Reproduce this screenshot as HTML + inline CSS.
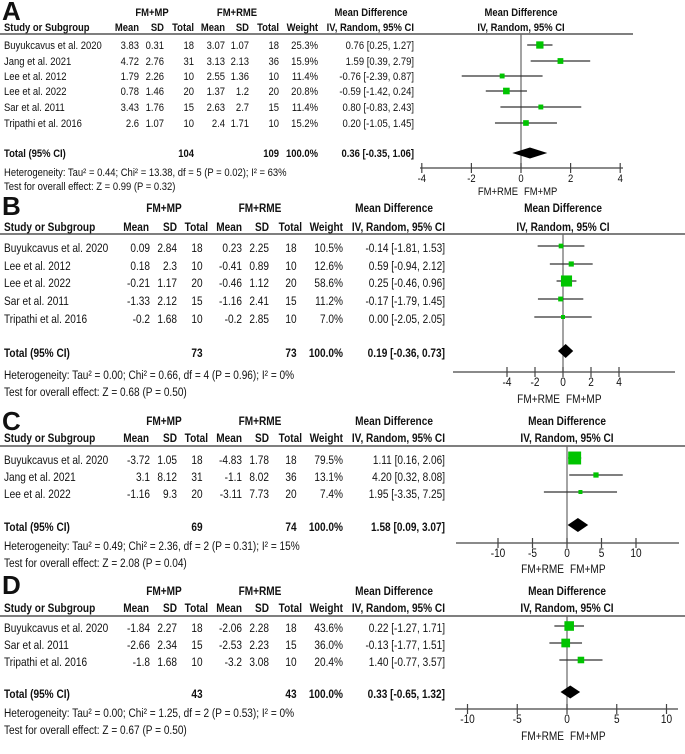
<!DOCTYPE html>
<html><head><meta charset="utf-8">
<style>
html,body{margin:0;padding:0;background:#fff;}
svg{display:block;font-family:"Liberation Sans",Arial,sans-serif;}
</style></head>
<body>
<svg id="fig" width="685" height="754" viewBox="0 0 685 754" xmlns="http://www.w3.org/2000/svg"></svg>
<script>
// ---------- Panel A data ----------
var aStudies = ["Buyukcavus et al. 2020","Jang et al. 2021","Lee et al. 2012","Lee et al. 2022","Sar et al. 2011","Tripathi et al. 2016"];
var aMean1 = ["3.83","4.72","1.79","0.78","3.43","2.6"];
var aSd1 = ["0.31","2.76","2.26","1.46","1.76","1.07"];
var aN1 = ["18","31","10","20","15","10"];
var aMean2 = ["3.07","3.13","2.55","1.37","2.63","2.4"];
var aSd2 = ["1.07","2.13","1.36","1.2","2.7","1.71"];
var aN2 = ["18","36","10","20","15","10"];
var aWeight = [25.3,15.9,11.4,20.8,11.4,15.2];
var aMD = [0.76,1.59,-0.76,-0.59,0.80,0.20];
var aLo = [0.25,0.39,-2.39,-1.42,-0.83,-1.05];
var aHi = [1.27,2.79,0.87,0.24,2.43,1.45];
var aTotal = [0.36,-0.35,1.06];
var aTotN = ["104","109"];
var aTicks = [-4,-2,0,2,4];
var aHet = "Heterogeneity: Tau\u00b2 = 0.44; Chi\u00b2 = 13.38, df = 5 (P = 0.02); I\u00b2 = 63%";
var aTest = "Test for overall effect: Z = 0.99 (P = 0.32)";

// ---------- Panel B data ----------
var bStudies = ["Buyukcavus et al. 2020","Lee et al. 2012","Lee et al. 2022","Sar et al. 2011","Tripathi et al. 2016"];
var bMean1 = ["0.09","0.18","-0.21","-1.33","-0.2"];
var bSd1 = ["2.84","2.3","1.17","2.12","1.68"];
var bN1 = ["18","10","20","15","10"];
var bMean2 = ["0.23","-0.41","-0.46","-1.16","-0.2"];
var bSd2 = ["2.25","0.89","1.12","2.41","2.85"];
var bN2 = ["18","10","20","15","10"];
var bWeight = [10.5,12.6,58.6,11.2,7.0];
var bMD = [-0.14,0.59,0.25,-0.17,0.00];
var bLo = [-1.81,-0.94,-0.46,-1.79,-2.05];
var bHi = [1.53,2.12,0.96,1.45,2.05];
var bTotal = [0.19,-0.36,0.73];
var bTotN = ["73","73"];
var bTicks = [-4,-2,0,2,4];
var bHet = "Heterogeneity: Tau\u00b2 = 0.00; Chi\u00b2 = 0.66, df = 4 (P = 0.96); I\u00b2 = 0%";
var bTest = "Test for overall effect: Z = 0.68 (P = 0.50)";

// ---------- Panel C data ----------
var cStudies = ["Buyukcavus et al. 2020","Jang et al. 2021","Lee et al. 2022"];
var cMean1 = ["-3.72","3.1","-1.16"];
var cSd1 = ["1.05","8.12","9.3"];
var cN1 = ["18","31","20"];
var cMean2 = ["-4.83","-1.1","-3.11"];
var cSd2 = ["1.78","8.02","7.73"];
var cN2 = ["18","36","20"];
var cWeight = [79.5,13.1,7.4];
var cMD = [1.11,4.20,1.95];
var cLo = [0.16,0.32,-3.35];
var cHi = [2.06,8.08,7.25];
var cTotal = [1.58,0.09,3.07];
var cTotN = ["69","74"];
var cTicks = [-10,-5,0,5,10];
var cHet = "Heterogeneity: Tau\u00b2 = 0.49; Chi\u00b2 = 2.36, df = 2 (P = 0.31); I\u00b2 = 15%";
var cTest = "Test for overall effect: Z = 2.08 (P = 0.04)";

// ---------- Panel D data ----------
var dStudies = ["Buyukcavus et al. 2020","Sar et al. 2011","Tripathi et al. 2016"];
var dMean1 = ["-1.84","-2.66","-1.8"];
var dSd1 = ["2.27","2.34","1.68"];
var dN1 = ["18","15","10"];
var dMean2 = ["-2.06","-2.53","-3.2"];
var dSd2 = ["2.28","2.23","3.08"];
var dN2 = ["18","15","10"];
var dWeight = [43.6,36.0,20.4];
var dMD = [0.22,-0.13,1.40];
var dLo = [-1.27,-1.77,-0.77];
var dHi = [1.71,1.51,3.57];
var dTotal = [0.33,-0.65,1.32];
var dTotN = ["43","43"];
var dTicks = [-10,-5,0,5,10];
var dHet = "Heterogeneity: Tau\u00b2 = 0.00; Chi\u00b2 = 1.25, df = 2 (P = 0.53); I\u00b2 = 0%";
var dTest = "Test for overall effect: Z = 0.67 (P = 0.50)";

var NS = "http://www.w3.org/2000/svg";
var svg = document.getElementById('fig');

function T(parent, x, y, str, anchor, bold, size, sx, name) {
  var el = document.createElementNS(NS, 'text');
  el.setAttribute('transform', 'translate(' + x + ',' + y + ') scale(' + sx + ',1)');
  el.setAttribute('text-anchor', anchor);
  el.setAttribute('font-size', size);
  if (bold) el.setAttribute('font-weight', 'bold');
  el.setAttribute('fill', '#111');
  
  
  el.textContent = str;
  parent.appendChild(el);
  return el;
}
function L(parent, x1, y1, x2, y2, stroke, w, name) {
  var el = document.createElementNS(NS, 'line');
  el.setAttribute('x1', x1); el.setAttribute('y1', y1);
  el.setAttribute('x2', x2); el.setAttribute('y2', y2);
  el.setAttribute('stroke', stroke); el.setAttribute('stroke-width', w);
  
  
  parent.appendChild(el);
  return el;
}

function fmt(v){ return v.toFixed(2); }

function panel(cfg, d) {
  var g = document.createElementNS(NS, 'g');
  
  
  svg.appendChild(g);
  var sx = cfg.sx, fs = cfg.fs, c = cfg.cols, an = cfg.anchors;
  T(g, 2, cfg.letterY, cfg.letter, 'start', true, 26, 1, 'panel-label');
  T(g, cfg.fm1, cfg.h1, 'FM+MP', 'middle', true, fs, sx, 'group-header-fm-mp');
  T(g, cfg.fm2, cfg.h1, 'FM+RME', 'middle', true, fs, sx, 'group-header-fm-rme');
  T(g, cfg.mdH, cfg.h1, 'Mean Difference', 'middle', true, fs, sx, 'md-column-header');
  T(g, cfg.zero, cfg.h1, 'Mean Difference', 'middle', true, fs, sx, 'plot-header');
  T(g, 4, cfg.h2, 'Study or Subgroup', 'start', true, fs, sx, 'study-column-header');
  var hd = ['Mean','SD','Total','Mean','SD','Total','Weight','IV, Random, 95% CI'];
  for (var i = 0; i < hd.length; i++) T(g, cfg.hcols[i], cfg.h2, hd[i], 'end', true, fs, sx, 'column-header');
  T(g, cfg.zero, cfg.h2, 'IV, Random, 95% CI', 'middle', true, fs, sx, 'plot-subheader');
  L(g, 0, cfg.line, cfg.lineEnd, cfg.line, '#555', 1.6, 'header-rule');
  var xs = function(v){ return cfg.zero + v * cfg.ppu; };
  L(g, xs(0), cfg.line, xs(0), cfg.axisY, '#666', 1.2, 'null-line');
  for (var r = 0; r < d.studies.length; r++) {
    var y = cfg.rows[r];
    T(g, 4, y, d.studies[r], 'start', false, fs, sx, 'study-name');
    var vals = [d.m1[r], d.s1[r], d.n1[r], d.m2[r], d.s2[r], d.n2[r], d.w[r].toFixed(1) + '%',
      fmt(d.md[r]) + ' [' + fmt(d.lo[r]) + ', ' + fmt(d.hi[r]) + ']'];
    for (var k = 0; k < vals.length; k++) T(g, c[k], y, vals[k], an[k], false, fs, sx, 'table-cell');
    var cy = y - cfg.off;
    L(g, xs(d.lo[r]), cy, xs(d.hi[r]), cy, '#333', 1.3, 'ci-line');
    var s = Math.max(4, 1.45 * Math.sqrt(d.w[r]));
    var sq = document.createElementNS(NS, 'rect');
    sq.setAttribute('x', xs(d.md[r]) - s / 2);
    sq.setAttribute('y', cy - s / 2);
    sq.setAttribute('width', s);
    sq.setAttribute('height', s);
    sq.setAttribute('fill', '#00c400');
    
    
    g.appendChild(sq);
  }
  T(g, 4, cfg.tot, 'Total (95% CI)', 'start', true, fs, sx, 'total-label');
  T(g, c[2], cfg.tot, d.totN[0], an[2], true, fs, sx, 'total-n-fm-mp');
  T(g, c[5], cfg.tot, d.totN[1], an[5], true, fs, sx, 'total-n-fm-rme');
  T(g, c[6], cfg.tot, '100.0%', 'end', true, fs, sx, 'total-weight');
  T(g, c[7], cfg.tot, fmt(d.total[0]) + ' [' + fmt(d.total[1]) + ', ' + fmt(d.total[2]) + ']', 'end', true, fs, sx, 'total-ci');
  var ty = cfg.tot - cfg.off, hh = cfg.dh / 2;
  var dm = document.createElementNS(NS, 'polygon');
  dm.setAttribute('points', xs(d.total[1]) + ',' + ty + ' ' + xs(d.total[0]) + ',' + (ty - hh) + ' ' + xs(d.total[2]) + ',' + ty + ' ' + xs(d.total[0]) + ',' + (ty + hh));
  dm.setAttribute('fill', '#000');
  
  
  g.appendChild(dm);
  T(g, 4, cfg.het, d.het, 'start', false, fs, sx, 'heterogeneity-text');
  T(g, 4, cfg.test, d.test, 'start', false, fs, sx, 'overall-effect-text');
  L(g, cfg.ax0, cfg.axisY, cfg.ax1, cfg.axisY, '#444', 1.3, 'x-axis');
  for (var t = 0; t < d.ticks.length; t++) {
    L(g, xs(d.ticks[t]), cfg.axisY - 5, xs(d.ticks[t]), cfg.axisY + 5, '#444', 1.2, 'x-tick');
    T(g, xs(d.ticks[t]), cfg.axisY + 14, String(d.ticks[t]), 'middle', false, fs, sx, 'x-tick-label');
  }
  T(g, xs(0) - 3, cfg.fmY, 'FM+RME', 'end', false, fs, sx, 'favours-rme-label');
  T(g, xs(0) + 3, cfg.fmY, 'FM+MP', 'start', false, fs, sx, 'favours-mp-label');
}

var colsA = [139,164,194,225,249,279,318,414];
var ancA = ['end','end','end','end','end','end','end','end'];
var colsB = [150,177,197,242,269,291,343,445];
var hcolsB = [149,177,208,242,269,302,343,445];
var ancB = ['end','end','middle','end','end','middle','end','end'];

panel({id:'a', letter:'A', letterY:20, sx:0.86, fs:11, cols:colsA, hcols:colsA, anchors:ancA, fm1:152, fm2:237, mdH:371,
  h1:16, h2:31, line:34, lineEnd:633, rows:[49,65,80,95,111,127], off:4, tot:157, het:176, test:190,
  zero:521, ppu:24.8, axisY:168, ax0:420, ax1:623, fmY:195, dh:11},
  {studies:aStudies, m1:aMean1, s1:aSd1, n1:aN1, m2:aMean2, s2:aSd2, n2:aN2, w:aWeight, md:aMD, lo:aLo, hi:aHi,
   total:aTotal, totN:aTotN, ticks:aTicks, het:aHet, test:aTest});

panel({id:'b', letter:'B', letterY:215, sx:0.84, fs:12, cols:colsB, hcols:hcolsB, anchors:ancB, fm1:164, fm2:260, mdH:394,
  h1:212, h2:231, line:234, lineEnd:685, rows:[252,270,287,305,323], off:6, tot:357, het:379, test:396,
  zero:563, ppu:14.0, axisY:372, ax0:453, ax1:675, fmY:403, dh:14},
  {studies:bStudies, m1:bMean1, s1:bSd1, n1:bN1, m2:bMean2, s2:bSd2, n2:bN2, w:bWeight, md:bMD, lo:bLo, hi:bHi,
   total:bTotal, totN:bTotN, ticks:bTicks, het:bHet, test:bTest});

panel({id:'c', letter:'C', letterY:430, sx:0.84, fs:12, cols:colsB, hcols:hcolsB, anchors:ancB, fm1:164, fm2:260, mdH:394,
  h1:425, h2:442, line:446, lineEnd:685, rows:[464,481,498], off:6, tot:531, het:550, test:567,
  zero:567, ppu:6.9, axisY:543, ax0:456, ax1:679, fmY:573, dh:14},
  {studies:cStudies, m1:cMean1, s1:cSd1, n1:cN1, m2:cMean2, s2:cSd2, n2:cN2, w:cWeight, md:cMD, lo:cLo, hi:cHi,
   total:cTotal, totN:cTotN, ticks:cTicks, het:cHet, test:cTest});

panel({id:'d', letter:'D', letterY:594, sx:0.84, fs:12, cols:colsB, hcols:hcolsB, anchors:ancB, fm1:164, fm2:260, mdH:394,
  h1:595, h2:612, line:616, lineEnd:685, rows:[632,649,666], off:6, tot:698, het:717, test:734,
  zero:567, ppu:9.95, axisY:709, ax0:455, ax1:678, fmY:740, dh:13},
  {studies:dStudies, m1:dMean1, s1:dSd1, n1:dN1, m2:dMean2, s2:dSd2, n2:dN2, w:dWeight, md:dMD, lo:dLo, hi:dHi,
   total:dTotal, totN:dTotN, ticks:dTicks, het:dHet, test:dTest});
</script>
</body></html>
